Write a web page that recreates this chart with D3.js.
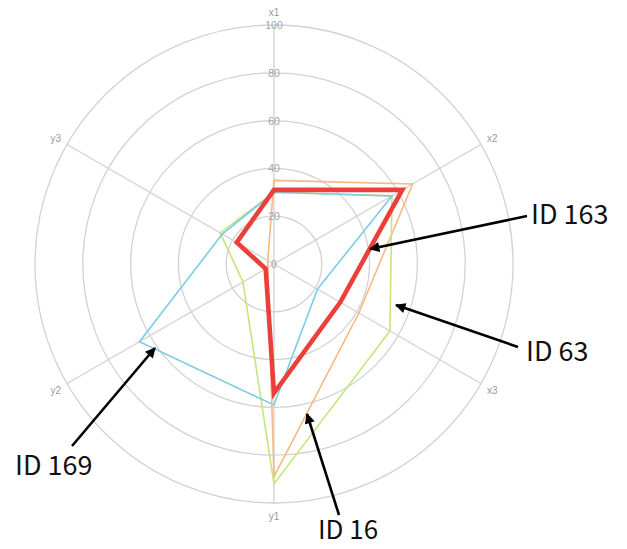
<!DOCTYPE html>
<html>
<head>
<meta charset="utf-8">
<script src="https://cdn.jsdelivr.net/npm/d3@7"></script>
<style>
  html, body { margin: 0; padding: 0; background: #fff; }
  svg { display: block; }
</style>
</head>
<body>
<svg id="chart" width="627" height="549"></svg>
<script>
// ---- data ----
const axes = ["x1", "x2", "x3", "y1", "y2", "y3"];
const ringTicks = [0, 20, 40, 60, 80, 100];
const seriesNames = ["ID 16", "ID 63", "ID 169", "ID 163"];
const id16  = [35, 67, 41, 89, 3, 3];
const id63  = [30, 57, 56, 92, 15, 26];
const id169 = [30, 57, 21, 59, 65, 25];
const id163 = [31, 62, 32, 54, 4, 18];
const seriesValues = [id16, id63, id169, id163];

// ---- styles ----
const colors = ["#f7b882", "#c2e67a", "#7ccbe8", "#ec3f3a"];
const widths = [1.6, 1.6, 1.6, 4.6];

const svg = d3.select("#chart");
const cx = 274, cy = 264, R = 239;

const r = d3.scaleLinear().domain([0, 100]).range([0, R]);
const ang = d3.scalePoint().domain(axes).range([0, 2 * Math.PI * (axes.length - 1) / axes.length]);

const g = svg.append("g").attr("transform", `translate(${cx},${cy})`);

// rings
g.selectAll("circle.ring").data(ringTicks.filter(d => d > 0)).enter()
  .append("circle").attr("class", "ring")
  .attr("r", d => r(d)).attr("fill", "none")
  .attr("stroke", "#d2d2d2").attr("stroke-width", 1.3);

// spokes
g.selectAll("line.spoke").data(axes).enter()
  .append("line").attr("class", "spoke")
  .attr("x1", 0).attr("y1", 0)
  .attr("x2", d => r(100) * Math.sin(ang(d)))
  .attr("y2", d => -r(100) * Math.cos(ang(d)))
  .attr("stroke", "#d2d2d2").attr("stroke-width", 1.3);

// axis labels
g.selectAll("text.axlab").data(axes).enter()
  .append("text").attr("class", "axlab")
  .attr("x", d => (R + 13) * Math.sin(ang(d)))
  .attr("y", d => -(R + 13) * Math.cos(ang(d)))
  .attr("text-anchor", "middle").attr("dominant-baseline", "central")
  .attr("font-family", "Liberation Sans, Arial, sans-serif")
  .attr("font-size", 10).attr("fill", "#9a9a9a")
  .text(d => d);

// series
const line = d3.lineRadial()
  .angle((d, i) => ang(axes[i]))
  .radius(d => r(d))
  .curve(d3.curveLinearClosed);

g.selectAll("path.series").data(seriesValues).enter()
  .append("path").attr("class", "series")
  .attr("d", d => line(d))
  .attr("fill", "none")
  .attr("stroke", (d, i) => colors[i])
  .attr("stroke-width", (d, i) => widths[i])
  .attr("stroke-linejoin", "miter");

// ring tick labels along x1 axis (drawn on top)
g.selectAll("text.tick").data(ringTicks).enter()
  .append("text").attr("class", "tick")
  .attr("x", 0).attr("y", d => -r(d))
  .attr("text-anchor", "middle").attr("dominant-baseline", "central")
  .attr("font-family", "Liberation Sans, Arial, sans-serif")
  .attr("font-size", 10.5).attr("fill", "#a4a4a4")
  .text(d => d);

// ---- annotations ----
const defs = svg.append("defs");
defs.append("marker").attr("id", "arrow")
  .attr("viewBox", "0 0 10 10").attr("refX", 9).attr("refY", 5)
  .attr("markerWidth", 4.3).attr("markerHeight", 4.0)
  .attr("orient", "auto")
  .append("path").attr("d", "M0,0 L10,5 L0,10 Z").attr("fill", "#000");

const annTexts = ["ID 163", "ID 63", "ID 169", "ID 16"];
const annTextPos = [[531, 224], [526, 361], [15, 475], [318, 539]];
const annFrom = [[527, 216], [518, 347], [72, 446], [339, 515]];
const annTo = [[370, 249], [396, 305], [155, 348], [307, 414]];

const ann = svg.append("g");
annTexts.forEach((t, i) => {
  ann.append("line")
    .attr("x1", annFrom[i][0]).attr("y1", annFrom[i][1])
    .attr("x2", annTo[i][0]).attr("y2", annTo[i][1])
    .attr("stroke", "#000").attr("stroke-width", 2.6)
    .attr("marker-end", "url(#arrow)");
  ann.append("text")
    .attr("x", annTextPos[i][0]).attr("y", annTextPos[i][1])
    .attr("font-family", "Noto Sans CJK JP, Noto Sans, sans-serif")
    .attr("font-size", i === 3 ? 26 : 27).attr("fill", "#111")
    .text(t);
});
</script>
</body>
</html>
